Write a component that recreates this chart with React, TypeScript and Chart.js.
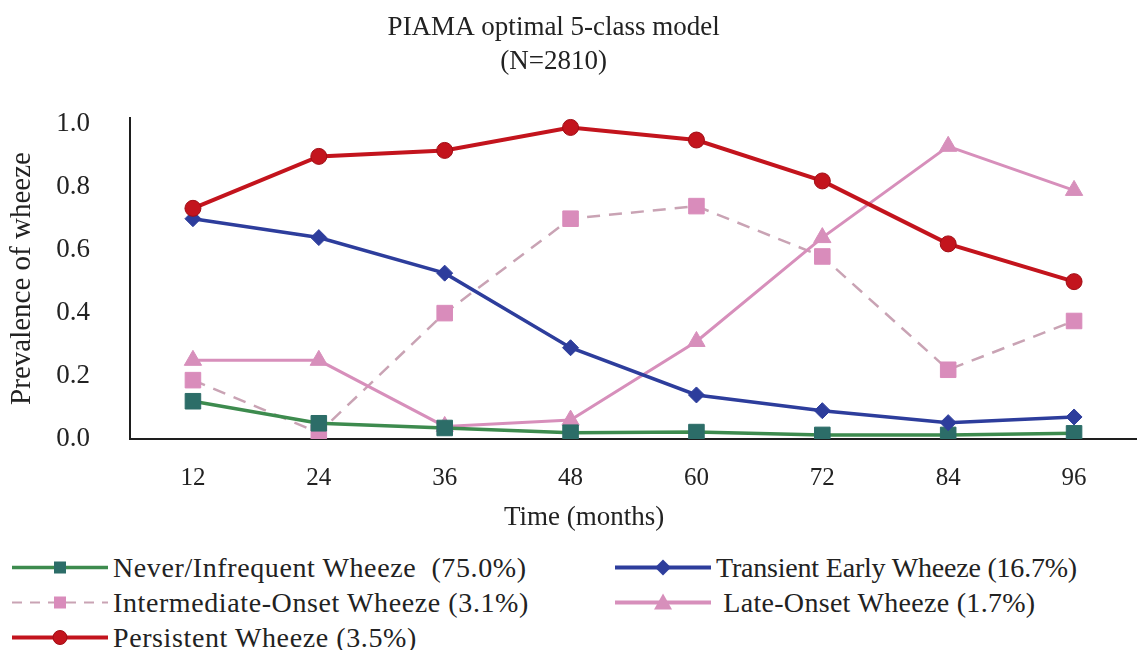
import React, { useEffect, useRef } from 'react';
import { Chart, registerables } from 'chart.js';

Chart.register(...registerables);

const months = ['12', '24', '36', '48', '60', '72', '84', '96'];
const neverInfrequent = [0.12, 0.05, 0.035, 0.02, 0.022, 0.013, 0.013, 0.018];
const transientEarly = [0.70, 0.64, 0.527, 0.29, 0.14, 0.09, 0.052, 0.07];
const intermediateOnset = [0.187, 0.02, 0.40, 0.70, 0.74, 0.58, 0.22, 0.375];
const lateOnset = [0.25, 0.25, 0.04, 0.06, 0.31, 0.64, 0.93, 0.79];
const persistent = [0.733, 0.898, 0.917, 0.99, 0.95, 0.82, 0.62, 0.50];
const yTicks = [0, 0.2, 0.4, 0.6, 0.8, 1.0];

const titleLines = ['PIAMA optimal 5-class model', '(N=2810)'];
const xTitle = 'Time (months)';
const yTitle = 'Prevalence of wheeze';

const legendNames = [
  'Never/Infrequent Wheeze  (75.0%)',
  'Transient Early Wheeze (16.7%)',
  'Intermediate-Onset Wheeze (3.1%)',
  ' Late-Onset Wheeze (1.7%)',
  'Persistent Wheeze (3.5%)',
];

const SERIF = "'Liberation Serif', 'Times New Roman', serif";
const TEXT = '#222222';

const C_GREEN_LINE = '#3d8b4e';
const C_GREEN_PT = '#2c6d68';
const C_BLUE = '#2d3d9c';
const C_PINK_DASH = '#c9a3b4';
const C_PINK_PT = '#d98cbb';
const C_PINK = '#d78fbb';
const C_RED = '#c3141d';

const VIEW_W = 1137;
// canvas is slightly wider than the view so the plot reaches the right edge
// (Chart.js reserves room for the largest point marker on every side)
const CANVAS_W = 1149;
const CANVAS_H = 545;

const textPlugin = {
  id: 'textPlugin',
  afterDraw(chart: any) {
    const { ctx, chartArea } = chart;
    const xs = chart.scales.x;
    ctx.save();
    ctx.fillStyle = TEXT;
    ctx.textAlign = 'center';
    ctx.textBaseline = 'middle';
    ctx.font = `27px ${SERIF}`;
    const tx = VIEW_W * 0.487;
    ctx.fillText(titleLines[0], tx, 28);
    ctx.fillText(titleLines[1], tx, 62);
    ctx.fillText(xTitle, chartArea.left + (chartArea.right - chartArea.left) * 0.451, xs.bottom - 27);
    ctx.restore();
  },
};

function Swatch({ kind }: { kind: number }) {
  const w = 96;
  const h = 35;
  const cy = h / 2;
  const cx = 48;
  if (kind === 0) {
    return (
      <svg width={w} height={h}>
        <line x1={0} y1={cy} x2={w} y2={cy} stroke={C_GREEN_LINE} strokeWidth={3.5} />
        <rect x={cx - 6} y={cy - 6} width={12} height={12} fill={C_GREEN_PT} />
      </svg>
    );
  }
  if (kind === 1) {
    return (
      <svg width={w} height={h}>
        <line x1={0} y1={cy} x2={w} y2={cy} stroke={C_BLUE} strokeWidth={4} />
        <polygon points={`${cx - 8},${cy} ${cx},${cy - 8} ${cx + 8},${cy} ${cx},${cy + 8}`} fill={C_BLUE} />
      </svg>
    );
  }
  if (kind === 2) {
    return (
      <svg width={w} height={h}>
        <line x1={0} y1={cy} x2={w} y2={cy} stroke={C_PINK_DASH} strokeWidth={2} strokeDasharray="10 8" />
        <rect x={cx - 6} y={cy - 6} width={12} height={12} fill={C_PINK_PT} />
      </svg>
    );
  }
  if (kind === 3) {
    return (
      <svg width={w} height={h}>
        <line x1={0} y1={cy} x2={w} y2={cy} stroke={C_PINK} strokeWidth={4} />
        <polygon points={`${cx - 9},${cy + 7} ${cx},${cy - 9} ${cx + 9},${cy + 7}`} fill={C_PINK} />
      </svg>
    );
  }
  return (
    <svg width={w} height={h}>
      <line x1={0} y1={cy} x2={w} y2={cy} stroke={C_RED} strokeWidth={4} />
      <circle cx={cx} cy={cy} r={7} fill={C_RED} stroke="#a00d15" strokeWidth={1} />
    </svg>
  );
}

export default function App() {
  const canvasRef = useRef<HTMLCanvasElement | null>(null);

  useEffect(() => {
    const canvas = canvasRef.current;
    if (!canvas) return;
    const chart = new Chart(canvas, {
      type: 'line',
      data: {
        labels: months,
        datasets: [
          {
            label: legendNames[4],
            data: persistent,
            borderColor: C_RED,
            backgroundColor: C_RED,
            borderWidth: 4,
            pointStyle: 'circle',
            pointRadius: 8,
            pointBorderColor: '#a00d15',
            pointBorderWidth: 1,
            tension: 0,
            order: 0,
          },
          {
            label: legendNames[1],
            data: transientEarly,
            borderColor: C_BLUE,
            backgroundColor: C_BLUE,
            borderWidth: 3.5,
            pointStyle: 'rectRot',
            pointRadius: 8,
            pointBorderWidth: 1,
            tension: 0,
            order: 1,
          },
          {
            label: legendNames[0],
            data: neverInfrequent,
            borderColor: C_GREEN_LINE,
            backgroundColor: C_GREEN_PT,
            pointBorderColor: C_GREEN_PT,
            borderWidth: 3.5,
            pointStyle: 'rect',
            pointRadius: 11,
            pointBorderWidth: 1,
            tension: 0,
            order: 2,
          },
          {
            label: legendNames[3],
            data: lateOnset,
            borderColor: C_PINK,
            backgroundColor: C_PINK,
            borderWidth: 3,
            pointStyle: 'triangle',
            pointRadius: 10,
            pointBorderWidth: 1,
            tension: 0,
            order: 3,
          },
          {
            label: legendNames[2],
            data: intermediateOnset,
            borderColor: C_PINK_DASH,
            backgroundColor: C_PINK_PT,
            pointBorderColor: C_PINK_PT,
            borderWidth: 2.5,
            borderDash: [13, 9],
            pointStyle: 'rect',
            pointRadius: 11,
            pointBorderWidth: 1,
            tension: 0,
            order: 4,
          },
        ],
      },
      options: {
        responsive: false,
        animation: false,
        layout: { padding: { left: 0, right: 0, top: 118, bottom: 0 } },
        plugins: {
          legend: { display: false },
          tooltip: { enabled: false },
          title: { display: false },
        },
        scales: {
          x: {
            type: 'category',
            offset: true,
            grid: { display: false, drawTicks: false },
            border: { display: true, color: '#1e1e1e', width: 2 },
            ticks: {
              color: TEXT,
              padding: 24,
              font: { family: SERIF, size: 25, lineHeight: 1.2 },
              maxRotation: 0,
            },
            afterFit: (scale: any) => {
              scale.height = 106;
              scale.paddingLeft = 0;
              scale.paddingRight = 0;
            },
          },
          y: {
            type: 'linear',
            min: 0,
            max: 1.02,
            grid: { display: false, drawTicks: false },
            border: { display: true, color: '#1e1e1e', width: 2 },
            afterBuildTicks: (scale: any) => {
              scale.ticks = yTicks.map((v) => ({ value: v }));
            },
            ticks: {
              color: TEXT,
              padding: 40,
              font: { family: SERIF, size: 27 },
              callback: (v: any) => Number(v).toFixed(1),
            },
            title: {
              display: true,
              text: yTitle,
              color: TEXT,
              font: { family: SERIF, size: 29, lineHeight: 1.2 },
              padding: { top: 5, bottom: 0 },
            },
            afterFit: (scale: any) => {
              scale.width = 130;
              scale.paddingTop = 0;
              scale.paddingBottom = 0;
            },
          },
        },
      },
      plugins: [textPlugin],
    } as any);
    return () => chart.destroy();
  }, []);

  const legendPos = [
    { left: 12, top: 550, ls: 0.6 },
    { left: 615, top: 550, ls: -0.2 },
    { left: 12, top: 585, ls: 0.6 },
    { left: 615, top: 585, ls: 0.3 },
    { left: 12, top: 620, ls: 0.6 },
  ];
  const kindOrder = [0, 1, 2, 3, 4];

  return (
    <div style={{ position: 'absolute', left: 0, top: 0, width: VIEW_W, height: 650, background: '#fff', overflow: 'hidden' }}>
      <canvas
        ref={canvasRef}
        width={CANVAS_W}
        height={CANVAS_H}
        style={{ display: 'block', width: CANVAS_W, height: CANVAS_H }}
      />
      {kindOrder.map((k, i) => (
        <div
          key={i}
          style={{
            position: 'absolute',
            left: legendPos[i].left,
            top: legendPos[i].top,
            height: 35,
            display: 'flex',
            alignItems: 'center',
            fontFamily: SERIF,
            fontSize: 28,
            letterSpacing: legendPos[i].ls,
            color: TEXT,
            whiteSpace: 'pre',
          }}
        >
          <Swatch kind={k} />
          <span style={{ marginLeft: 5, lineHeight: '35px' }}>{legendNames[k]}</span>
        </div>
      ))}
    </div>
  );
}
